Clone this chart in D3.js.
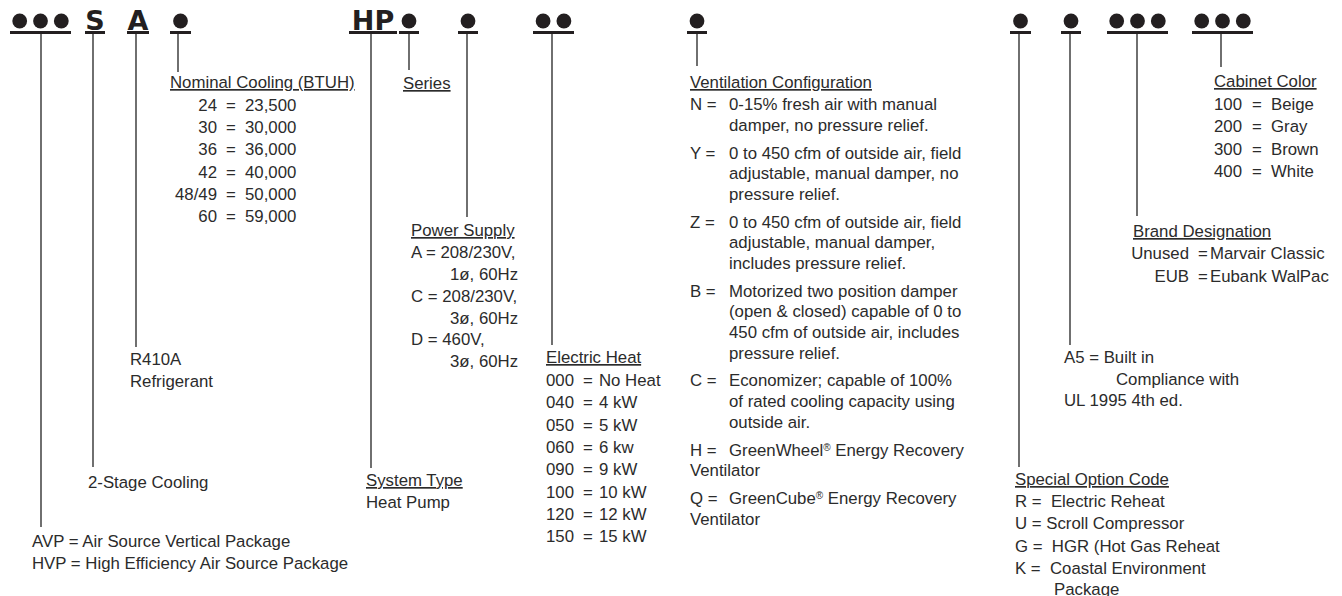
<!DOCTYPE html>
<meta charset="utf-8">
<style>
body { margin: 0; background: #fff; }
text { font-family: "Liberation Sans", Arial, sans-serif; font-size: 16.8px; fill: #2b2b2b; white-space: pre; }
.head { text-decoration: underline; }
.code { font-family: "DejaVu Sans", sans-serif; font-weight: bold; font-size: 27px; fill: #231f20; }
.stem { stroke: #333; stroke-width: 1.4px; }
.bar, .dot { fill: #231f20; }
</style>
<body>
<script src="https://d3js.org/d3.v7.min.js"></script>
<script>

// model number pieces, left to right
var codeSymbols = ["●●●", "S", "A", "●", "HP", "●", "●", "●●", "●", "●", "●", "●●●", "●●●"];

// field texts
var modelSeries = ["AVP = Air Source Vertical Package", "HVP = High Efficiency Air Source Package"];
var stageText = ["2-Stage Cooling"];
var refrigerantText = ["R410A", "Refrigerant"];
var coolingCodes = ["24", "30", "36", "42", "48/49", "60"];
var coolingValues = ["23,500", "30,000", "36,000", "40,000", "50,000", "59,000"];
var systemType = ["Heat Pump"];
var powerCodes = ["A = 208/230V,", "C = 208/230V,", "D = 460V,"];
var powerPhase = ["1ø, 60Hz", "3ø, 60Hz", "3ø, 60Hz"];
var heatCodes = ["000", "040", "050", "060", "090", "100", "120", "150"];
var heatValues = ["No Heat", "4 kW", "5 kW", "6 kw", "9 kW", "10 kW", "12 kW", "15 kW"];
var ventCodes = ["N =", "Y =", "Z =", "B =", "C =", "H =", "Q ="];
var ventText = [
  ["0-15% fresh air with manual", "damper, no pressure relief."],
  ["0 to 450 cfm of outside air, field", "adjustable, manual damper, no", "pressure relief."],
  ["0 to 450 cfm of outside air, field", "adjustable, manual damper,", "includes pressure relief."],
  ["Motorized two position damper", "(open & closed) capable of 0 to", "450 cfm of outside air, includes", "pressure relief."],
  ["Economizer; capable of 100%", "of rated cooling capacity using", "outside air."],
  ["GreenWheel® Energy Recovery", "Ventilator"],
  ["GreenCube® Energy Recovery", "Ventilator"]
];
var specialOptions = ["R =  Electric Reheat", "U = Scroll Compressor", "G =  HGR (Hot Gas Reheat", "K =  Coastal Environment"];
var complianceText = ["A5 = Built in", "Compliance with", "UL 1995 4th ed."];
var brandCodes = ["Unused", "EUB"];
var brandValues = ["Marvair Classic", "Eubank WalPac"];
var colorCodes = ["100", "200", "300", "400"];
var colorValues = ["Beige", "Gray", "Brown", "White"];

// layout of the top row
var segX = [[10,71],[85,105],[127,149],[170,191],[349,397],[399,419],[458,478],[533,574],[687,707],[1010,1031],[1061,1081],[1107,1168],[1192,1253]];
var stemX = [41, 93, 136, 178, 371, 409, 467, 552, 697, 1019, 1070, 1137, 1221];
var stemEnd = [527, 467, 347, 72, 468, 70, 217, 345, 66, 467, 345, 216, 67];

var svg = d3.select("body").append("svg")
    .attr("width", 1342)
    .attr("height", 596);

var seg = svg.selectAll("g.seg")
    .data(codeSymbols)
  .enter().append("g")
    .attr("class", "seg");

seg.append("rect")
    .attr("class", "bar")
    .attr("x", function(d, i) { return segX[i][0]; })
    .attr("y", 31)
    .attr("width", function(d, i) { return segX[i][1] - segX[i][0]; })
    .attr("height", 3);

seg.append("line")
    .attr("class", "stem")
    .attr("x1", function(d, i) { return stemX[i]; })
    .attr("x2", function(d, i) { return stemX[i]; })
    .attr("y1", 34)
    .attr("y2", function(d, i) { return stemEnd[i]; });

seg.each(function(d, i) {
  var g = d3.select(this);
  var mid = (segX[i][0] + segX[i][1]) / 2;
  if (d.charAt(0) == "●") {
    var n = d.length;
    for (var k = 0; k < n; k++) {
      g.append("circle")
          .attr("class", "dot")
          .attr("cx", mid + (k - (n - 1) / 2) * 20.8)
          .attr("cy", 21)
          .attr("r", 7.4);
    }
  } else {
    g.append("text")
        .attr("class", "code")
        .attr("x", mid)
        .attr("y", 30)
        .attr("text-anchor", "middle")
        .text(d);
  }
});

// plain stacked lines
function lines(arr, x, y0, step, cls) {
  svg.selectAll(null)
      .data(arr)
    .enter().append("text")
      .attr("class", cls || null)
      .attr("x", x)
      .attr("y", function(d, i) { return y0 + i * step; })
      .text(function(d) { return d; });
}

// code = value tables
function table(codes, values, xCode, anchor, xEq, xVal, y0, step) {
  var g = svg.append("g");
  var row = g.selectAll("g")
      .data(codes)
    .enter().append("g")
      .attr("transform", function(d, i) { return "translate(0," + (y0 + i * step) + ")"; });
  row.append("text").attr("x", xCode).attr("text-anchor", anchor).text(function(d) { return d; });
  row.append("text").attr("x", xEq).attr("text-anchor", "middle").text("=");
  row.append("text").attr("x", xVal).text(function(d, i) { return values[i]; });
}

lines(modelSeries, 32, 547, 22);
lines(stageText, 88, 488, 22);
lines(refrigerantText, 130, 365, 22);

lines(["Nominal Cooling (BTUH)"], 170, 88, 22, "head");
table(coolingCodes, coolingValues, 217, "end", 231, 245, 111, 22.2);

lines(["Series"], 403, 89, 22, "head");

lines(["System Type"], 366, 486, 22, "head");
lines(systemType, 366, 508, 22);

lines(["Power Supply"], 411, 236, 22, "head");
lines(powerCodes, 411, 258, 43.6);
lines(powerPhase, 450, 280, 43.6);

lines(["Electric Heat"], 546, 363, 22, "head");
table(heatCodes, heatValues, 546, "start", 588, 599, 386, 22.3);

// ventilation: wrapped lines, groups spaced a bit wider
lines(["Ventilation Configuration"], 690, 88, 22, "head");
var ventRows = [];
var L = 0;
ventText.forEach(function(group, gi) {
  group.forEach(function(t, li) {
    ventRows.push({ g: gi, li: li, text: t, y: 110 + 20.6 * L + 7.3 * gi });
    L++;
  });
});
svg.selectAll(null)
    .data(ventRows.filter(function(r) { return r.li == 0; }))
  .enter().append("text")
    .attr("x", 690)
    .attr("y", function(r) { return r.y; })
    .text(function(r) { return ventCodes[r.g]; });
svg.selectAll(null)
    .data(ventRows)
  .enter().append("text")
    .attr("x", function(r) { return (r.g >= 5 && r.li > 0) ? 690 : 729; })
    .attr("y", function(r) { return r.y; })
    .each(function(r) {
      var el = d3.select(this);
      var parts = r.text.split("®");
      el.append("tspan").text(parts[0]);
      if (parts.length > 1) {
        el.append("tspan").attr("dy", -5).style("font-size", "10px").text("®");
        el.append("tspan").attr("dy", 5).text(parts[1]);
      }
    });

lines(["Special Option Code"], 1015, 485, 22, "head");
lines(specialOptions, 1015, 507, 22.3);
lines(["Package"], 1054, 595, 22);

lines([complianceText[0]], 1064, 363, 22);
lines([complianceText[1]], 1116, 385, 22);
lines([complianceText[2]], 1064, 406, 22);

lines(["Brand Designation"], 1133, 237, 22, "head");
table(brandCodes, brandValues, 1189, "end", 1203, 1210, 259, 22.5);

lines(["Cabinet Color"], 1214, 87, 22, "head");
table(colorCodes, colorValues, 1214, "start", 1257, 1271, 110, 22.3);

</script>
</body>
